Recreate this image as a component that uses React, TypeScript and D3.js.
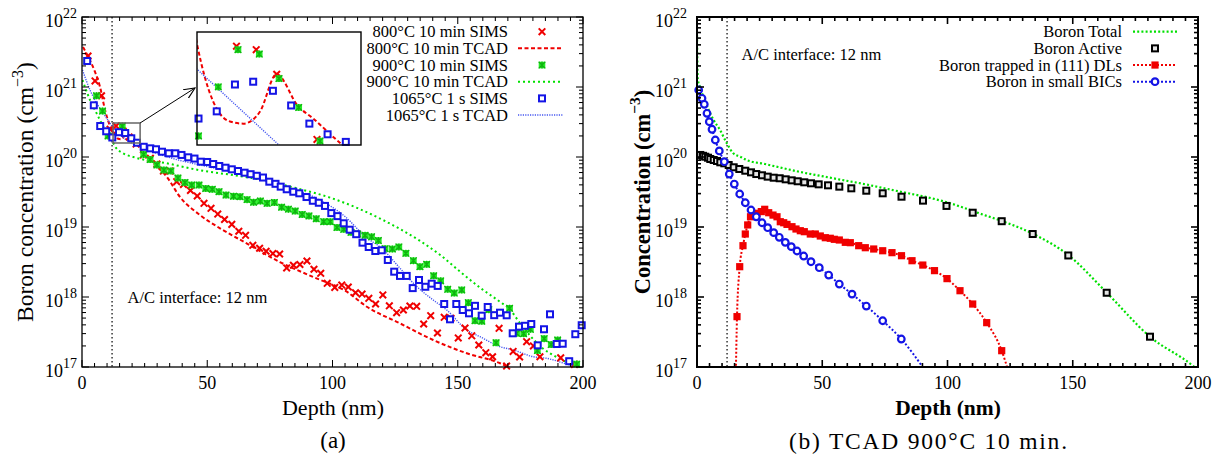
import React from "react";
import * as d3 from "d3";

type P = [number, number];

// ---------- Panel (a) data: depth (nm), boron concentration (cm^-3) ----------
const sims800: P[] = [
  [2.4, 2.77e21], [5.2, 1.22e21], [7.8, 7.5e20], [11.2, 2.49e20], [13.6, 2.77e20], [16.4, 2.35e20],
  [18.8, 1.93e20], [21.6, 1.53e20], [24.5, 1.07e20], [27.3, 9.57e19], [29.9, 7.94e19], [32.5, 6.3e19],
  [35.1, 6.3e19], [37.8, 4.44e19], [40.5, 4.05e19], [43.3, 3.32e19], [46.0, 2.77e19], [48.7, 2.18e19],
  [51.5, 1.85e19], [54.2, 1.53e19], [56.9, 1.28e19], [59.8, 1.09e19], [62.6, 8.69e18], [65.3, 7.6e18],
  [68.2, 5.48e18], [70.9, 4.97e18], [73.5, 4.5e18], [76.2, 4.18e18], [78.9, 4.11e18], [81.7, 2.6e18],
  [84.4, 2.84e18], [87.0, 2.91e18], [89.8, 3.27e18], [92.6, 2.49e18], [95.3, 2.18e18], [97.9, 1.57e18],
  [100.9, 1.37e18], [103.7, 1.48e18], [106.3, 1.39e18], [109.2, 1.15e18], [111.8, 1.1e18], [114.5, 9.57e17],
  [117.2, 7.94e17], [120.1, 1.07e18], [122.7, 7.48e17], [125.6, 5.97e17], [128.3, 6.52e17], [130.9, 7.43e17],
  [133.6, 7.36e17], [136.4, 4.11e17], [139.2, 5.41e17], [141.9, 3.06e17], [144.6, 5.13e17], [147.3, 4.97e17],
  [150.2, 2.6e17], [152.9, 3.61e17], [155.6, 2.79e17], [158.4, 2.06e17], [161.2, 1.6e17], [163.9, 1.4e17],
  [166.5, 3.57e17], [169.5, 1.03e17], [172.1, 1.67e17], [174.7, 1.39e17], [177.5, 2.3e17], [180.2, 2.0e17],
  [182.8, 1.4e17], [191.1, 1.35e17], [196.6, 1.09e17],
];
const tcad800: P[] = [
  [0.4, 3.72e21], [2.5, 2.69e21], [5.2, 1.64e21], [7.2, 1.0e21], [9.2, 4.69e20], [11.2, 2.77e20],
  [13.2, 2.13e20], [14.4, 1.82e20], [15.6, 1.79e20], [16.6, 1.93e20], [17.6, 2.39e20], [19.0, 1.99e20],
  [20.0, 1.85e20], [22.0, 1.59e20], [24.0, 1.19e20], [29.3, 7.69e19], [33.9, 5.18e19], [39.1, 2.69e19],
  [47.1, 1.48e19], [55.1, 9.57e18], [65.7, 5.85e18], [79.0, 3.16e18], [92.3, 1.93e18], [105.7, 1.19e18],
  [113.7, 7.26e17], [126.9, 4.21e17], [140.2, 2.43e17], [153.6, 1.57e17], [166.9, 1.13e17], [170.1, 1.0e17],
  [175.0, 8.0e16],
];
const sims900: P[] = [
  [2.0, 2.38e21], [5.8, 7.49e20], [8.2, 4.54e20], [10.4, 2.0e20], [16.1, 2.77e20], [24.6, 1.09e20],
  [27.2, 9.18e19], [29.9, 7.69e19], [32.7, 6.52e19], [35.5, 6.31e19], [38.3, 5.01e19], [41.1, 4.32e19],
  [43.8, 3.98e19], [46.7, 3.98e19], [49.4, 3.55e19], [52.0, 3.46e19], [54.7, 3.19e19], [57.5, 2.86e19],
  [60.5, 2.75e19], [63.1, 2.71e19], [65.9, 2.46e19], [68.5, 2.26e19], [71.2, 2.35e19], [73.9, 2.18e19],
  [76.8, 2.24e19], [79.7, 1.92e19], [82.4, 1.8e19], [85.1, 1.69e19], [87.9, 1.51e19], [90.6, 1.44e19],
  [93.5, 1.31e19], [96.5, 1.19e19], [99.1, 1.19e19], [101.8, 9.84e18], [104.5, 9.27e18], [107.4, 8.4e18],
  [110.1, 7.94e18], [113.0, 7.61e18], [115.6, 7.24e18], [118.3, 6.41e18], [121.0, 4.9e18], [123.9, 4.85e18],
  [126.5, 5.18e18], [129.3, 4.21e18], [132.3, 3.3e18], [134.9, 2.71e18], [137.6, 2.93e18], [140.4, 2.01e18],
  [143.2, 1.7e18], [146.0, 1.29e18], [148.6, 1.14e18], [151.6, 1.26e18], [154.2, 8.29e17], [156.9, 4.58e17],
  [159.6, 4.51e17], [162.4, 6.59e17], [165.3, 2.22e17], [170.7, 6.9e17], [173.5, 3.03e17], [176.3, 2.99e17],
  [179.0, 3.46e17], [181.8, 1.72e17], [184.5, 2.54e17], [187.3, 2.09e17], [189.9, 2.43e17], [197.5, 1.1e17],
];
const tcad900: P[] = [
  [0.2, 1.26e21], [3.2, 6.52e20], [5.9, 4.17e20], [8.5, 2.71e20], [11.9, 1.74e20], [13.6, 1.35e20],
  [16.0, 1.15e20], [20.5, 1.0e20], [33.8, 8.13e19], [47.1, 6.46e19], [60.4, 5.5e19], [73.7, 4.57e19],
  [85.0, 3.63e19], [99.0, 2.63e19], [110.0, 1.86e19], [119.0, 1.32e19], [127.0, 9.33e18], [135.0, 6.31e18],
  [143.0, 3.98e18], [151.0, 2.29e18], [159.0, 1.35e18], [166.9, 8.51e17], [170.6, 6.76e17], [175.0, 4.17e17],
  [182.8, 2.0e17], [190.0, 1.35e17], [196.0, 1.07e17], [200.0, 9.0e16],
];
const sims1065: P[] = [
  [2.08, 2.35e21], [4.71, 5.48e20], [7.27, 2.77e20], [9.66, 2.33e20], [12.1, 1.9e20], [14.77, 2.26e20],
  [17.25, 2.2e20], [19.68, 1.85e20], [21.96, 1.6e20], [24.63, 1.4e20], [27.27, 1.33e20], [29.54, 1.29e20],
  [31.94, 1.19e20], [34.61, 1.13e20], [37.25, 1.13e20], [39.72, 1.07e20], [42.4, 9.9e19], [44.91, 9.5e19],
  [47.43, 8.57e19], [49.98, 8.49e19], [52.38, 7.94e19], [54.81, 7.44e19], [57.29, 7.03e19], [59.8, 6.67e19],
  [62.28, 6.31e19], [64.91, 5.97e19], [67.31, 5.68e19], [69.78, 5.39e19], [72.26, 5.09e19], [74.77, 4.44e19],
  [77.25, 4.14e19], [79.32, 3.77e19], [81.72, 3.46e19], [84.35, 3.19e19], [86.75, 3.03e19], [89.62, 2.68e19],
  [92.14, 2.37e19], [94.53, 2.22e19], [97.0, 2.0e19], [99.52, 1.58e19], [102.0, 1.43e19], [104.47, 1.13e19],
  [106.87, 9.15e18], [109.46, 7.89e18], [111.98, 5.97e18], [114.45, 5.18e18], [117.09, 4.54e18], [119.64, 4.65e18],
  [122.08, 3.38e18], [124.63, 2.3e18], [126.95, 2.0e18], [129.62, 2.0e18], [132.02, 1.34e18], [134.53, 1.75e18],
  [137.05, 1.4e18], [139.6, 1.55e18], [142.0, 1.44e18], [144.59, 7.94e17], [146.91, 4.8e17], [149.42, 7.94e17],
  [151.98, 6.52e17], [154.49, 5.85e17], [156.89, 7.48e17], [159.56, 5.41e17], [161.96, 7.2e17], [164.55, 5.5e17],
  [166.87, 5.97e17], [169.54, 5.48e17], [171.94, 3.03e17], [174.45, 3.77e17], [176.85, 3.88e17], [179.36, 4.11e17],
  [181.92, 2.04e17], [184.43, 3.46e17], [186.83, 5.66e17], [189.5, 2.13e17], [191.9, 2.15e17], [194.49, 1.21e17],
  [196.93, 2.94e17], [199.48, 3.95e17],
];
const tcad1065: P[] = [
  [0.2, 1.75e21], [3.2, 9.06e20], [5.9, 5.85e20], [8.5, 4.21e20], [11.2, 3.03e20], [13.9, 2.3e20],
  [17.8, 1.75e20], [23.2, 1.4e20], [33.8, 1.01e20], [47.1, 7.69e19], [60.4, 6.17e19], [73.7, 4.97e19],
  [79.0, 3.98e19], [92.3, 2.71e19], [105.0, 1.41e19], [113.7, 6.97e18], [119.0, 5.18e18], [126.9, 2.59e18],
  [132.3, 1.57e18], [140.2, 9.06e17], [145.6, 6.52e17], [153.6, 3.38e17], [158.9, 2.71e17], [166.9, 1.95e17],
  [172.2, 1.75e17], [180.2, 1.4e17], [185.5, 1.33e17], [193.5, 1.1e17], [197.5, 1.0e17], [200.0, 9.5e16],
];

// ---------- Inset of panel (a) ----------
const insetDepth: P = [12.4, 23.2];
const insetConc: P = [1.585e20, 3.06e20];
const insetSims800: P[] = [[15.0, 2.818e20], [16.3, 2.761e20], [17.65, 2.393e20], [20.3, 1.637e20]];
const insetTcad800: P[] = [
  [12.0, 3.548e20], [12.42, 2.831e20], [14.46, 1.824e20], [15.45, 1.795e20], [16.54, 1.923e20],
  [17.64, 2.393e20], [19.06, 1.986e20], [20.05, 1.849e20], [21.92, 1.592e20], [22.3, 1.549e20],
];
const insetSims900: P[] = [
  [12.5, 1.671e20], [13.8, 2.223e20], [15.1, 2.761e20], [16.5, 2.692e20], [17.8, 2.333e20], [19.1, 1.972e20],
  [20.5, 1.622e20],
];
const insetSims1065: P[] = [
  [12.5, 1.849e20], [13.7, 1.928e20], [14.9, 2.254e20], [16.1, 2.291e20], [17.4, 2.173e20], [18.6, 1.995e20],
  [19.8, 1.795e20], [21.0, 1.687e20], [22.2, 1.614e20],
];
const insetTcad1065: P[] = [[12.0, 2.547e20], [18.5, 1.496e20]];

// ---------- Panel (b) data ----------
const boronTotal: P[] = [
  [0, 5.5e21], [0.3, 1.3e21], [1.2, 1.0e21], [3.2, 6.3e20], [6.6, 3.39e20], [9.2, 2.43e20], [11.9, 1.57e20],
  [14.5, 1.13e20], [17.3, 1.01e20], [19.8, 9.06e19], [27.1, 7.94e19], [40.3, 6.21e19], [53.8, 5.01e19],
  [67.1, 4.08e19], [80.4, 3.24e19], [93.7, 2.57e19], [100.0, 2.24e19], [107.7, 1.82e19], [114.0, 1.51e19],
  [121.4, 1.23e19], [134.3, 7.94e18], [148.2, 3.98e18], [163.6, 1.15e18], [180.8, 2.71e17], [198.1, 1.03e17],
  [200.0, 9.0e16],
];
const boronActive: P[] = [
  [1.32, 1.07e20], [2.4, 1.04e20], [3.31, 1.01e20], [4.39, 9.77e19], [5.31, 9.36e19], [6.67, 9.06e19],
  [7.98, 8.77e19], [9.3, 8.4e19], [10.9, 8.13e19], [12.65, 7.69e19], [14.65, 7.13e19], [16.89, 6.74e19],
  [19.28, 6.37e19], [21.56, 6.04e19], [23.67, 5.71e19], [25.95, 5.48e19], [28.22, 5.24e19], [30.62, 5.06e19],
  [33.01, 4.97e19], [35.41, 4.8e19], [37.8, 4.64e19], [40.2, 4.5e19], [42.83, 4.35e19], [45.51, 4.21e19],
  [48.58, 4.07e19], [52.3, 3.94e19], [56.81, 3.77e19], [61.6, 3.57e19], [67.58, 3.3e19], [74.13, 3.03e19],
  [81.64, 2.71e19], [90.22, 2.38e19], [99.6, 2.0e19], [110.06, 1.6e19], [121.64, 1.21e19], [134.01, 7.94e18],
  [148.22, 3.92e18], [163.55, 1.15e18], [180.84, 2.71e17],
];
const boronDL: P[] = [
  [15.5, 8.0e16], [15.97, 5.24e17], [17.05, 2.71e18], [18.36, 5.41e18], [19.28, 7.94e18], [20.24, 1.07e19],
  [21.36, 1.4e19], [22.63, 1.48e19], [23.95, 1.57e19], [25.67, 1.66e19], [27.03, 1.79e19], [28.62, 1.6e19],
  [30.34, 1.48e19], [31.94, 1.4e19], [33.25, 1.19e19], [34.61, 1.15e19], [35.93, 1.09e19], [37.92, 1.01e19],
  [39.52, 9.36e18], [41.24, 8.85e18], [42.83, 8.57e18], [45.23, 7.94e18], [47.23, 7.94e18], [49.22, 7.44e18],
  [51.22, 7.03e18], [53.21, 6.9e18], [54.81, 6.67e18], [56.81, 6.52e18], [59.2, 6.04e18], [61.2, 5.97e18],
  [64.55, 5.41e18], [67.19, 5.06e18], [70.54, 4.85e18], [74.13, 4.58e18], [77.84, 4.3e18], [81.64, 3.89e18],
  [85.83, 3.3e18], [90.14, 2.86e18], [94.81, 2.38e18], [99.8, 1.83e18], [104.99, 1.23e18], [110.06, 7.94e17],
  [115.65, 4.3e17], [121.64, 1.71e17], [124.6, 8.0e16],
];
const boronBIC: P[] = [
  [0, 1.0e15], [0, 1.0e21], [0.68, 9.06e20], [2.0, 6.9e20], [2.91, 5.66e20], [3.99, 4.21e20], [4.91, 3.19e20],
  [5.99, 2.49e20], [7.31, 1.75e20], [8.9, 1.22e20], [10.9, 8.57e19], [12.89, 5.71e19], [14.89, 4.11e19],
  [17.05, 2.96e19], [19.28, 2.22e19], [21.56, 1.75e19], [23.67, 1.4e19], [25.95, 1.15e19], [28.22, 9.77e18],
  [30.62, 8.3e18], [32.85, 7.13e18], [35.25, 6.04e18], [37.64, 5.24e18], [39.92, 4.54e18], [42.59, 3.85e18],
  [45.51, 3.19e18], [48.82, 2.62e18], [52.57, 2.06e18], [56.81, 1.53e18], [61.88, 1.1e18], [67.58, 7.43e17],
  [74.13, 4.58e17], [81.56, 2.51e17], [91.0, 9.0e16],
];

// ---------- Ticks / labels ----------
const depthTicks = [0, 50, 100, 150, 200];
const decadeExps = [17, 18, 19, 20, 21, 22];
const legendA = [
  "800°C 10 min SIMS", "800°C 10 min TCAD", "900°C 10 min SIMS",
  "900°C 10 min TCAD", "1065°C 1 s SIMS", "1065°C 1 s TCAD",
];
const legendB = ["Boron Total", "Boron Active", "Boron trapped in (111) DLs", "Boron in small BICs"];
const interfaceDepth = 12;

const RED = "#f00000";
const GREEN = "#00e000";
const BLUE = "#1414e6";
const LBLUE = "#4657f0";
const FONT = "'Liberation Serif', 'Times New Roman', serif";

type Scale = (v: number) => number;

function Marker({ type, cx, cy }: { type: string; cx: number; cy: number }) {
  switch (type) {
    case "x":
      return (
        <path d={`M${cx - 3.3},${cy - 3.3}L${cx + 3.3},${cy + 3.3}M${cx - 3.3},${cy + 3.3}L${cx + 3.3},${cy - 3.3}`}
          stroke={RED} strokeWidth={2} fill="none" />
      );
    case "star":
      return (
        <g>
          <rect x={cx - 3.3} y={cy - 3.3} width={6.6} height={6.6} fill="#22ee22" />
          <path d={`M${cx - 3.3},${cy - 3.3}L${cx + 3.3},${cy + 3.3}M${cx - 3.3},${cy + 3.3}L${cx + 3.3},${cy - 3.3}M${cx},${cy - 3.5}V${cy + 3.5}`}
            stroke="#10b010" strokeWidth={1.2} fill="none" />
        </g>
      );
    case "sqB":
      return <rect x={cx - 3} y={cy - 3} width={6} height={6} fill="#fff" stroke={BLUE} strokeWidth={2} />;
    case "sqK":
      return <rect x={cx - 3} y={cy - 3} width={6} height={6} fill="#e4e4e4" stroke="#000" strokeWidth={2} />;
    case "sqR":
      return <rect x={cx - 3.6} y={cy - 3.6} width={7.2} height={7.2} fill={RED} />;
    case "circ":
      return <circle cx={cx} cy={cy} r={3.3} fill="#fff" stroke={BLUE} strokeWidth={2.2} />;
    default:
      return null;
  }
}

function Points({ data, x, y, type, xd, yd }: { data: P[]; x: Scale; y: Scale; type: string; xd: P; yd: P }) {
  return (
    <g>
      {data
        .filter((d) => d[0] >= xd[0] && d[0] <= xd[1] && d[1] >= yd[0] && d[1] <= yd[1] && d[0] > 0.3)
        .map((d, i) => (
          <Marker key={i} type={type} cx={x(d[0])} cy={y(d[1])} />
        ))}
    </g>
  );
}

function Line({ data, x, y, color, width, dash, clip }: {
  data: P[]; x: Scale; y: Scale; color: string; width: number; dash: string; clip: string;
}) {
  const gen = d3.line<P>().x((d) => x(d[0])).y((d) => y(d[1])).curve(d3.curveMonotoneX);
  return <path d={gen(data) || ""} fill="none" stroke={color} strokeWidth={width} strokeDasharray={dash} clipPath={`url(#${clip})`} />;
}

function Frame({ x, y, sw, labelGap }: {
  x: d3.ScaleLinear<number, number>; y: d3.ScaleLogarithmic<number, number>; sw: number; labelGap: number;
}) {
  const [x0, x1] = x.range();
  const [y0, y1] = y.range(); // y0 bottom, y1 top
  const minorX = d3.range(0, 201, 5).filter((v) => v % 50 !== 0);
  const minorY: number[] = [];
  for (let e = 17; e < 22; e++) for (let m = 2; m <= 9; m++) minorY.push(m * Math.pow(10, e));
  const MJ = 7, MN = 4;
  const tk: JSX.Element[] = [];
  depthTicks.forEach((v, i) => {
    const px = x(v);
    tk.push(<line key={`xb${i}`} x1={px} x2={px} y1={y0} y2={y0 - MJ} />);
    tk.push(<line key={`xt${i}`} x1={px} x2={px} y1={y1} y2={y1 + MJ} />);
  });
  minorX.forEach((v, i) => {
    const px = x(v);
    tk.push(<line key={`mxb${i}`} x1={px} x2={px} y1={y0} y2={y0 - MN} />);
    tk.push(<line key={`mxt${i}`} x1={px} x2={px} y1={y1} y2={y1 + MN} />);
  });
  decadeExps.forEach((e, i) => {
    const py = y(Math.pow(10, e));
    tk.push(<line key={`yl${i}`} x1={x0} x2={x0 + MJ} y1={py} y2={py} />);
    tk.push(<line key={`yr${i}`} x1={x1} x2={x1 - MJ} y1={py} y2={py} />);
  });
  minorY.forEach((v, i) => {
    const py = y(v);
    tk.push(<line key={`myl${i}`} x1={x0} x2={x0 + MN} y1={py} y2={py} />);
    tk.push(<line key={`myr${i}`} x1={x1} x2={x1 - MN} y1={py} y2={py} />);
  });
  return (
    <g>
      <g stroke="#000" strokeWidth={sw * 0.8}>{tk}</g>
      <rect x={x0} y={y1} width={x1 - x0} height={y0 - y1} fill="none" stroke="#000" strokeWidth={sw} />
      <g fontFamily={FONT} fontSize={18} fill="#000">
        {depthTicks.map((v, i) => (
          <text key={i} x={x(v)} y={y0 + 22} textAnchor="middle">{v}</text>
        ))}
        {decadeExps.map((e, i) => (
          <text key={i} x={x0 - labelGap} y={y(Math.pow(10, e)) + 9.5} textAnchor="end">
            10<tspan fontSize={14} dy={-9}>{e}</tspan>
          </text>
        ))}
      </g>
    </g>
  );
}

export default function App() {
  const W = 1221, H = 461;
  const xA = d3.scaleLinear().domain([0, 200]).range([82, 583]);
  const yA = d3.scaleLog().domain([1e17, 1e22]).range([367, 17]);
  const xB = d3.scaleLinear().domain([0, 200]).range([697, 1198]);
  const yB = d3.scaleLog().domain([1e17, 1e22]).range([367, 17]);
  const xIn = d3.scaleLinear().domain(insetDepth).range([197, 361]);
  const yIn = d3.scaleLog().domain(insetConc).range([145, 32]);
  const fullX: P = [0, 200];
  const fullY: P = [1e17, 1e22];

  const boxX0 = xA(insetDepth[0]), boxX1 = xA(insetDepth[1]);
  const boxY0 = yA(insetConc[1]), boxY1 = yA(insetConc[0]);

  const rowsA = legendA.map((_, i) => 31.7 + i * 16.67);
  const rowsB = legendB.map((_, i) => 31.7 + i * 16.67);

  return (
    <svg width={W} height={H} style={{ position: "absolute", left: 0, top: 0, background: "#fff" }} fontFamily={FONT}>
      <defs>
        <clipPath id="clipA"><rect x={82} y={17} width={501} height={350} /></clipPath>
        <clipPath id="clipB"><rect x={697} y={17} width={501} height={350} /></clipPath>
        <clipPath id="clipIn"><rect x={197} y={32} width={164} height={113} /></clipPath>
        <marker id="arrowHead" viewBox="0 0 12 12" refX={11} refY={6} markerWidth={12} markerHeight={12} markerUnits="userSpaceOnUse" orient="auto">
          <path d="M0,1 L11,6 L0,11" fill="none" stroke="#000" strokeWidth={1.1} />
        </marker>
      </defs>
      <rect width={W} height={H} fill="#fff" />

      {/* ===== Panel (a) ===== */}
      <line x1={xA(interfaceDepth)} x2={xA(interfaceDepth)} y1={17} y2={367} stroke="#000" strokeWidth={1.2} strokeDasharray="1.5 2.5" />
      <Line data={tcad800} x={xA} y={yA} color={RED} width={2} dash="4 2.5" clip="clipA" />
      <Line data={tcad900} x={xA} y={yA} color={GREEN} width={2} dash="2 3" clip="clipA" />
      <Line data={tcad1065} x={xA} y={yA} color={LBLUE} width={1.4} dash="1.2 1.2" clip="clipA" />
      <Points data={sims800} x={xA} y={yA} type="x" xd={fullX} yd={fullY} />
      <Points data={sims900} x={xA} y={yA} type="star" xd={fullX} yd={fullY} />
      <Points data={sims1065} x={xA} y={yA} type="sqB" xd={fullX} yd={fullY} />

      <rect x={boxX0} y={boxY0} width={boxX1 - boxX0} height={boxY1 - boxY0} fill="none" stroke="#666" strokeWidth={1.5} />
      <line x1={boxX1} y1={boxY0} x2={195} y2={88} stroke="#000" strokeWidth={1} markerEnd="url(#arrowHead)" />

      {/* inset */}
      <rect x={197} y={32} width={164} height={113} fill="#fff" />
      <Line data={insetTcad800} x={xIn} y={yIn} color={RED} width={2} dash="4 2.5" clip="clipIn" />
      <Line data={insetTcad1065} x={xIn} y={yIn} color={LBLUE} width={1.4} dash="1.2 1.2" clip="clipIn" />
      <Points data={insetSims800} x={xIn} y={yIn} type="x" xd={insetDepth} yd={insetConc} />
      <Points data={insetSims900} x={xIn} y={yIn} type="star" xd={insetDepth} yd={insetConc} />
      <Points data={insetSims1065} x={xIn} y={yIn} type="sqB" xd={insetDepth} yd={insetConc} />
      <rect x={197} y={32} width={164} height={113} fill="none" stroke="#000" strokeWidth={1.4} />

      <Frame x={xA} y={yA} sw={1.3} labelGap={5} />

      <text x={127.5} y={303} fontSize={16.5}>A/C interface: 12 nm</text>

      {/* legend (a) */}
      <g fontSize={16.5}>
        {legendA.map((t, i) => (
          <text key={i} x={508} y={rowsA[i] + 5.5} textAnchor="end">{t}</text>
        ))}
      </g>
      <Marker type="x" cx={542} cy={rowsA[0]} />
      <line x1={518} x2={563} y1={rowsA[1]} y2={rowsA[1]} stroke={RED} strokeWidth={2} strokeDasharray="4 2.5" />
      <Marker type="star" cx={542} cy={rowsA[2]} />
      <line x1={518} x2={563} y1={rowsA[3]} y2={rowsA[3]} stroke={GREEN} strokeWidth={2} strokeDasharray="2 3" />
      <Marker type="sqB" cx={542} cy={rowsA[4]} />
      <line x1={518} x2={563} y1={rowsA[5]} y2={rowsA[5]} stroke={LBLUE} strokeWidth={1.4} strokeDasharray="1.2 1.2" />

      <text x={333} y={415} fontSize={22} textAnchor="middle">Depth (nm)</text>
      <text transform="translate(33,192) rotate(-90)" fontSize={23.5} textAnchor="middle">
        Boron concentration (cm<tspan fontSize={16} dy={-10}>−3</tspan><tspan dy={10}>)</tspan>
      </text>
      <text x={333} y={448} fontSize={23} textAnchor="middle">(a)</text>

      {/* ===== Panel (b) ===== */}
      <line x1={xB(interfaceDepth)} x2={xB(interfaceDepth)} y1={17} y2={367} stroke="#000" strokeWidth={1.2} strokeDasharray="1.5 2.5" />
      <Line data={boronTotal} x={xB} y={yB} color={GREEN} width={2.2} dash="2 2.2" clip="clipB" />
      <Line data={boronDL} x={xB} y={yB} color={RED} width={2} dash="2 2" clip="clipB" />
      <Line data={boronBIC} x={xB} y={yB} color={BLUE} width={2} dash="2 2" clip="clipB" />
      <Points data={boronActive} x={xB} y={yB} type="sqK" xd={fullX} yd={fullY} />
      <Points data={boronDL} x={xB} y={yB} type="sqR" xd={fullX} yd={fullY} />
      <Points data={boronBIC} x={xB} y={yB} type="circ" xd={fullX} yd={fullY} />

      <Frame x={xB} y={yB} sw={2} labelGap={10} />

      <text x={741.5} y={60} fontSize={16.5}>A/C interface: 12 nm</text>

      <g fontSize={16.5}>
        {legendB.map((t, i) => (
          <text key={i} x={1122} y={rowsB[i] + 5.5} textAnchor="end">{t}</text>
        ))}
      </g>
      <line x1={1133} x2={1177} y1={rowsB[0]} y2={rowsB[0]} stroke={GREEN} strokeWidth={2.2} strokeDasharray="2 2.2" />
      <Marker type="sqK" cx={1155} cy={rowsB[1]} />
      <line x1={1133} x2={1177} y1={rowsB[2]} y2={rowsB[2]} stroke={RED} strokeWidth={2} strokeDasharray="2 2" />
      <Marker type="sqR" cx={1155} cy={rowsB[2]} />
      <line x1={1133} x2={1177} y1={rowsB[3]} y2={rowsB[3]} stroke={BLUE} strokeWidth={2} strokeDasharray="2 2" />
      <Marker type="circ" cx={1155} cy={rowsB[3]} />

      <text x={948} y={415} fontSize={21.5} fontWeight="bold" textAnchor="middle">Depth (nm)</text>
      <text transform="translate(650,192) rotate(-90)" fontSize={22.5} fontWeight="bold" textAnchor="middle">
        Concentration (cm<tspan fontSize={15.5} dy={-10}>−3</tspan><tspan dy={10}>)</tspan>
      </text>
      <text x={928} y={449} fontSize={23.5} textAnchor="middle" textLength={278} lengthAdjust="spacing">(b) TCAD 900°C 10 min.</text>
    </svg>
  );
}
